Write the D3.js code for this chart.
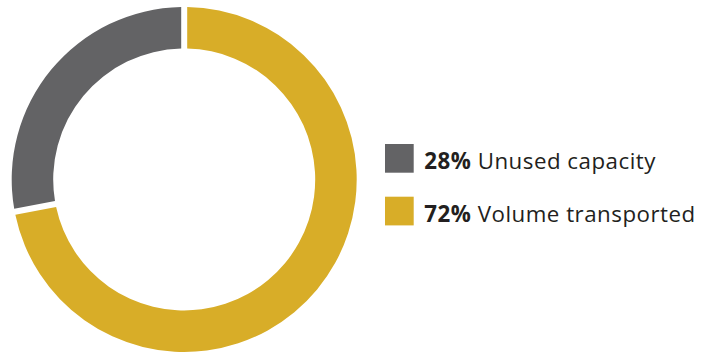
<!DOCTYPE html>
<html>
<head>
<meta charset="utf-8">
<script src="https://cdn.jsdelivr.net/npm/d3@7"></script>
<style>
  html, body { margin: 0; padding: 0; background: #fff; }
  svg { display: block; }
</style>
</head>
<body>
<svg id="chart" width="714" height="354"></svg>
<script>
// Share of capacity, in percent
const categories = ["Volume transported", "Unused capacity"];
const shares = [72, 28];
const colors = ["#D8AD28", "#636365"];
// Legend order (top to bottom)
const legendOrder = ["Unused capacity", "Volume transported"];

const svg = d3.select("#chart");
const cx = 184.2, cy = 179.5;
const outerR = 172.5, innerR = 131;
const gap = 6;

const data = categories.map((c, i) => ({ name: c, value: shares[i], color: colors[i] }));

const pie = d3.pie().value(d => d.value).sort(null);
const padR = Math.sqrt(innerR * innerR + outerR * outerR);
const arc = d3.arc()
  .innerRadius(innerR)
  .outerRadius(outerR)
  .padRadius(padR)
  .padAngle(gap / padR);

svg.append("g")
  .attr("transform", `translate(${cx},${cy})`)
  .selectAll("path")
  .data(pie(data))
  .join("path")
  .attr("d", arc)
  .attr("fill", d => d.data.color);

// Legend
const byName = new Map(data.map(d => [d.name, d]));
const legendY = d3.scalePoint().domain(legendOrder).range([144, 196.7]);
const sw = 28.7;

const lg = svg.append("g").selectAll("g")
  .data(legendOrder.map(n => byName.get(n)))
  .join("g")
  .attr("transform", d => `translate(385,${legendY(d.name)})`);

lg.append("rect")
  .attr("width", sw)
  .attr("height", sw)
  .attr("fill", d => d.color);

const txt = lg.append("text")
  .attr("x", 39.3)
  .attr("y", 25)
  .attr("font-family", "'Open Sans', sans-serif")
  .attr("font-size", 22.3)
  .attr("letter-spacing", 0.5)
  .attr("fill", "#231F20");
txt.append("tspan").attr("font-weight", "bold").text(d => d.value + "%");
txt.append("tspan").text(d => " " + d.name);
</script>
</body>
</html>
